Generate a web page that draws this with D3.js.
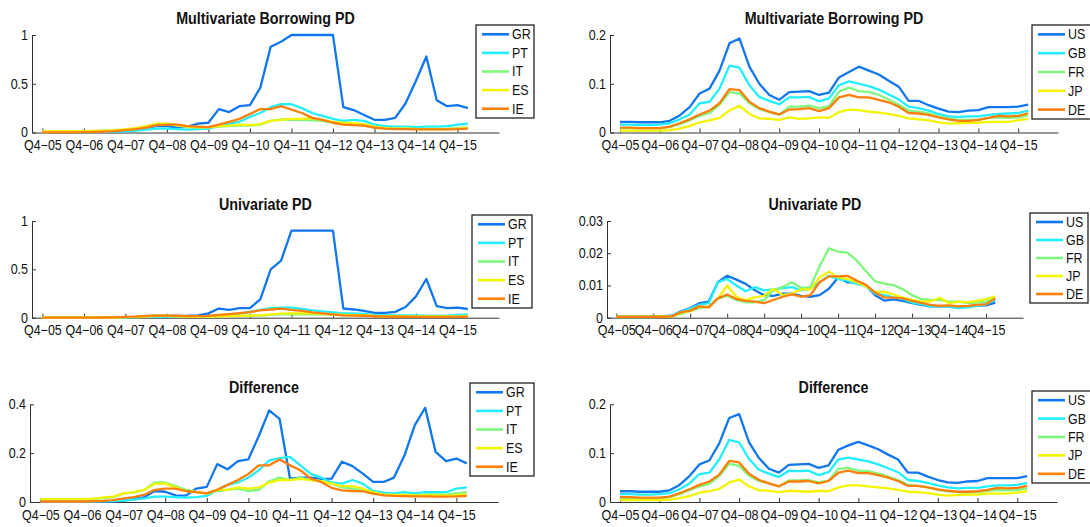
<!DOCTYPE html>
<html>
<head>
<meta charset="utf-8">
<script src="https://cdn.jsdelivr.net/npm/d3@7"></script>
<style>
  body { margin: 0; background: #fff; }
  svg { display: block; font-family: "Liberation Sans", Arial, Helvetica, sans-serif; }
  .tick text, .title, .leg text { transform-box: fill-box; transform-origin: center; transform: scaleY(1.1); }
  .tick text { font-size: 12.5px; fill: #111; }
  .title { font-size: 14.3px; font-weight: bold; fill: #111; }
  .leg text { font-size: 12.5px; fill: #111; }
</style>
</head>
<body>
<svg id="chart" width="1090" height="527"></svg>
<script>
// quarters Q4-05 .. Q1-16 (index 0..41), ticks every 4th quarter
const tickIdx = [0, 4, 8, 12, 16, 20, 24, 28, 32, 36, 40];
const tickLabels = ['Q4\u221205', 'Q4\u221206', 'Q4\u221207', 'Q4\u221208', 'Q4\u221209', 'Q4\u221210',
                    'Q4\u221211', 'Q4\u221212', 'Q4\u221213', 'Q4\u221214', 'Q4\u221215'];

const euroNames = ['GR', 'PT', 'IT', 'ES', 'IE'];
const coreNames = ['US', 'GB', 'FR', 'JP', 'DE'];

// Multivariate Borrowing PD - periphery
const mvGR = [0.004,0.004,0.004,0.004,0.004,0.005,0.006,0.008,0.015,0.03,0.05,0.065,0.065,0.05,0.06,0.09,0.1,0.24,0.21,0.27,0.28,0.46,0.88,0.93,1,1,1,1,1,0.26,0.23,0.18,0.13,0.13,0.15,0.3,0.53,0.78,0.33,0.27,0.28,0.25];
const mvPT = [0.004,0.004,0.004,0.004,0.005,0.005,0.006,0.008,0.012,0.02,0.03,0.04,0.04,0.035,0.03,0.035,0.04,0.065,0.09,0.11,0.16,0.2,0.26,0.29,0.29,0.25,0.2,0.17,0.14,0.12,0.13,0.12,0.08,0.065,0.06,0.06,0.055,0.06,0.06,0.065,0.08,0.09];
const mvIT = [0.01,0.01,0.01,0.01,0.012,0.014,0.018,0.022,0.03,0.04,0.06,0.085,0.085,0.07,0.055,0.05,0.05,0.06,0.065,0.07,0.07,0.08,0.12,0.135,0.13,0.13,0.125,0.12,0.1,0.085,0.08,0.07,0.05,0.042,0.04,0.04,0.038,0.038,0.038,0.04,0.045,0.05];
const mvES = [0.012,0.012,0.012,0.012,0.014,0.016,0.02,0.025,0.035,0.045,0.065,0.09,0.09,0.075,0.06,0.055,0.055,0.065,0.07,0.08,0.075,0.085,0.12,0.13,0.14,0.14,0.145,0.13,0.11,0.1,0.095,0.085,0.06,0.045,0.04,0.04,0.035,0.035,0.035,0.035,0.04,0.045];
const mvIE = [0.002,0.002,0.002,0.002,0.003,0.005,0.01,0.015,0.025,0.035,0.05,0.075,0.08,0.08,0.065,0.06,0.055,0.08,0.11,0.14,0.19,0.24,0.24,0.27,0.235,0.2,0.15,0.13,0.1,0.08,0.075,0.07,0.05,0.04,0.035,0.035,0.033,0.033,0.033,0.033,0.035,0.04];

// Multivariate Borrowing PD - core
const mvUS = [0.022,0.022,0.021,0.021,0.021,0.024,0.035,0.052,0.08,0.09,0.127,0.183,0.193,0.135,0.1,0.077,0.067,0.083,0.084,0.085,0.077,0.082,0.113,0.124,0.135,0.127,0.119,0.106,0.094,0.065,0.065,0.056,0.049,0.043,0.042,0.045,0.046,0.052,0.052,0.052,0.053,0.057];
const mvGB = [0.016,0.016,0.015,0.015,0.016,0.019,0.027,0.037,0.06,0.063,0.09,0.137,0.133,0.097,0.073,0.065,0.058,0.072,0.072,0.073,0.064,0.07,0.097,0.105,0.1,0.095,0.088,0.078,0.068,0.053,0.05,0.045,0.038,0.033,0.032,0.033,0.033,0.036,0.038,0.039,0.04,0.045];
const mvFR = [0.009,0.009,0.009,0.009,0.009,0.011,0.017,0.025,0.034,0.04,0.057,0.083,0.08,0.06,0.048,0.042,0.036,0.053,0.053,0.055,0.05,0.054,0.084,0.092,0.085,0.083,0.077,0.068,0.057,0.045,0.043,0.039,0.033,0.029,0.026,0.026,0.026,0.03,0.031,0.03,0.031,0.035];
const mvJP = [0.004,0.004,0.004,0.004,0.004,0.005,0.008,0.013,0.021,0.025,0.03,0.045,0.055,0.038,0.029,0.028,0.026,0.031,0.028,0.029,0.031,0.03,0.042,0.047,0.046,0.043,0.041,0.038,0.034,0.029,0.027,0.025,0.021,0.018,0.019,0.02,0.02,0.022,0.022,0.022,0.025,0.028];
const mvDE = [0.01,0.01,0.009,0.009,0.009,0.012,0.019,0.027,0.037,0.045,0.06,0.089,0.087,0.063,0.05,0.043,0.037,0.047,0.048,0.05,0.044,0.05,0.072,0.077,0.072,0.072,0.067,0.062,0.053,0.04,0.039,0.036,0.031,0.027,0.024,0.024,0.026,0.03,0.034,0.033,0.034,0.039];

// Univariate PD - periphery
const uvGR = [0.002,0.002,0.002,0.002,0.002,0.002,0.002,0.002,0.005,0.008,0.015,0.02,0.02,0.018,0.02,0.025,0.045,0.095,0.08,0.1,0.1,0.19,0.5,0.59,0.9,0.9,0.9,0.9,0.9,0.095,0.085,0.07,0.05,0.05,0.06,0.11,0.22,0.4,0.12,0.1,0.105,0.09];
const uvPT = [0.001,0.001,0.001,0.001,0.001,0.001,0.001,0.001,0.003,0.005,0.008,0.012,0.012,0.01,0.01,0.012,0.015,0.025,0.035,0.045,0.06,0.08,0.1,0.105,0.105,0.09,0.075,0.065,0.055,0.045,0.045,0.04,0.03,0.027,0.025,0.025,0.025,0.022,0.022,0.022,0.028,0.033];
const uvIT = [0.002,0.002,0.002,0.002,0.002,0.002,0.002,0.002,0.005,0.007,0.012,0.018,0.018,0.013,0.01,0.01,0.01,0.015,0.018,0.02,0.02,0.022,0.03,0.035,0.035,0.035,0.035,0.035,0.035,0.03,0.028,0.025,0.02,0.016,0.014,0.014,0.013,0.013,0.013,0.014,0.015,0.02];
const uvES = [0.002,0.002,0.002,0.002,0.002,0.002,0.002,0.002,0.005,0.008,0.015,0.02,0.02,0.015,0.012,0.012,0.012,0.015,0.017,0.02,0.022,0.025,0.035,0.042,0.045,0.045,0.045,0.04,0.035,0.028,0.026,0.024,0.018,0.015,0.013,0.012,0.011,0.011,0.011,0.011,0.012,0.015];
const uvIE = [0.001,0.001,0.001,0.001,0.001,0.001,0.002,0.003,0.008,0.012,0.018,0.022,0.022,0.02,0.016,0.016,0.018,0.028,0.038,0.048,0.058,0.075,0.085,0.093,0.08,0.07,0.055,0.045,0.035,0.025,0.022,0.02,0.015,0.012,0.01,0.01,0.009,0.009,0.009,0.009,0.009,0.01];

// Univariate PD - core
const uvUS = [0.0003,0.0003,0.0003,0.0003,0.0003,0.0005,0.0006,0.002,0.003,0.0045,0.005,0.011,0.013,0.0118,0.0105,0.0085,0.007,0.0068,0.0075,0.0075,0.0068,0.0065,0.007,0.009,0.0125,0.011,0.011,0.01,0.007,0.0053,0.0057,0.0052,0.0045,0.004,0.0035,0.0035,0.0035,0.0032,0.0035,0.0038,0.0038,0.0047];
const uvGB = [0.0003,0.0003,0.0003,0.0003,0.0003,0.0004,0.0005,0.0018,0.0028,0.004,0.0045,0.011,0.012,0.01,0.0082,0.0095,0.0085,0.0088,0.0092,0.0095,0.0085,0.009,0.011,0.013,0.012,0.0115,0.0105,0.0098,0.0075,0.007,0.0063,0.0058,0.0047,0.0042,0.0036,0.0035,0.0034,0.003,0.0032,0.0037,0.0042,0.0055];
const uvFR = [0.0002,0.0002,0.0002,0.0002,0.0002,0.0003,0.0004,0.0012,0.002,0.003,0.0035,0.006,0.0068,0.0055,0.0048,0.0048,0.0055,0.0085,0.0095,0.011,0.0092,0.0095,0.016,0.0215,0.0205,0.0202,0.0178,0.0145,0.0113,0.0106,0.0101,0.0088,0.007,0.0058,0.0055,0.0055,0.005,0.005,0.0045,0.0047,0.005,0.0062];
const uvJP = [0.0003,0.0003,0.0003,0.0003,0.0003,0.0003,0.0004,0.0015,0.0022,0.0035,0.0033,0.006,0.01,0.0065,0.0055,0.0063,0.0068,0.009,0.007,0.0075,0.0088,0.0088,0.0125,0.0143,0.0125,0.012,0.011,0.0098,0.008,0.008,0.0072,0.0062,0.0055,0.005,0.0051,0.0062,0.0045,0.005,0.0048,0.0052,0.0058,0.0066];
const uvDE = [0.0003,0.0003,0.0003,0.0003,0.0003,0.0003,0.0004,0.0017,0.0022,0.0035,0.0032,0.006,0.0072,0.0058,0.0052,0.005,0.0045,0.0055,0.0065,0.0072,0.0065,0.007,0.011,0.0128,0.0128,0.013,0.0115,0.0102,0.0078,0.0063,0.0062,0.006,0.0052,0.0046,0.004,0.0037,0.0038,0.0035,0.0037,0.004,0.0042,0.006];

// Difference - periphery
const dfGR = [0.003,0.003,0.003,0.003,0.003,0.003,0.003,0.003,0.006,0.012,0.02,0.045,0.042,0.027,0.026,0.055,0.062,0.155,0.134,0.167,0.175,0.27,0.375,0.34,0.096,0.1,0.1,0.095,0.096,0.165,0.147,0.116,0.082,0.082,0.1,0.19,0.315,0.386,0.205,0.167,0.178,0.158];
const dfPT = [0.002,0.002,0.002,0.002,0.002,0.002,0.003,0.004,0.006,0.01,0.015,0.022,0.022,0.02,0.018,0.02,0.025,0.05,0.07,0.08,0.1,0.13,0.17,0.18,0.185,0.15,0.115,0.1,0.08,0.075,0.09,0.075,0.045,0.038,0.035,0.04,0.035,0.04,0.04,0.04,0.055,0.06];
const dfIT = [0.01,0.01,0.01,0.01,0.01,0.012,0.016,0.02,0.035,0.038,0.05,0.08,0.08,0.065,0.05,0.04,0.035,0.045,0.05,0.055,0.045,0.05,0.085,0.1,0.09,0.1,0.09,0.085,0.075,0.06,0.055,0.05,0.035,0.03,0.03,0.03,0.028,0.03,0.03,0.03,0.035,0.04];
const dfES = [0.012,0.012,0.012,0.012,0.012,0.014,0.018,0.022,0.035,0.04,0.05,0.075,0.075,0.06,0.045,0.04,0.035,0.05,0.05,0.06,0.055,0.06,0.08,0.09,0.09,0.095,0.09,0.085,0.075,0.065,0.065,0.055,0.04,0.03,0.028,0.028,0.027,0.027,0.027,0.027,0.028,0.03];
const dfIE = [0.002,0.002,0.002,0.002,0.002,0.003,0.005,0.008,0.015,0.02,0.03,0.05,0.055,0.055,0.045,0.04,0.035,0.05,0.07,0.09,0.115,0.15,0.15,0.174,0.15,0.13,0.096,0.082,0.058,0.048,0.045,0.044,0.034,0.027,0.025,0.024,0.023,0.023,0.022,0.022,0.023,0.025];

// Difference - core
const dfUS = [0.022,0.022,0.021,0.021,0.021,0.024,0.035,0.053,0.077,0.085,0.12,0.172,0.18,0.122,0.09,0.068,0.06,0.076,0.077,0.078,0.07,0.075,0.107,0.116,0.123,0.116,0.108,0.097,0.087,0.06,0.06,0.052,0.045,0.04,0.039,0.042,0.043,0.049,0.049,0.049,0.049,0.053];
const dfGB = [0.016,0.016,0.015,0.015,0.016,0.018,0.026,0.038,0.057,0.06,0.087,0.127,0.122,0.088,0.066,0.058,0.051,0.064,0.063,0.064,0.055,0.061,0.087,0.091,0.087,0.083,0.077,0.069,0.061,0.045,0.043,0.039,0.034,0.03,0.028,0.029,0.029,0.032,0.034,0.034,0.035,0.039];
const dfFR = [0.008,0.008,0.008,0.008,0.008,0.01,0.016,0.024,0.032,0.037,0.053,0.078,0.074,0.054,0.043,0.038,0.032,0.044,0.044,0.045,0.04,0.044,0.068,0.07,0.064,0.063,0.058,0.052,0.045,0.035,0.033,0.03,0.025,0.022,0.02,0.02,0.02,0.023,0.025,0.024,0.025,0.028];
const dfJP = [0.004,0.004,0.004,0.004,0.004,0.005,0.008,0.012,0.019,0.022,0.027,0.04,0.046,0.032,0.024,0.023,0.02,0.023,0.022,0.021,0.023,0.022,0.03,0.034,0.034,0.032,0.03,0.028,0.025,0.021,0.02,0.018,0.015,0.013,0.014,0.015,0.015,0.017,0.017,0.017,0.019,0.022];
const dfDE = [0.01,0.01,0.009,0.009,0.009,0.011,0.018,0.026,0.035,0.042,0.056,0.084,0.081,0.058,0.045,0.038,0.032,0.042,0.042,0.043,0.038,0.043,0.06,0.064,0.059,0.059,0.055,0.05,0.043,0.033,0.033,0.03,0.026,0.023,0.021,0.021,0.022,0.025,0.029,0.028,0.029,0.033];

const colors = ['#1177ee', '#22eeff', '#7ff77f', '#f4f400', '#ff7f0a'];

// axes boxes: [left, right, top, bottom]
let panels = [
    { title: 'Multivariate Borrowing PD', box: [32, 499, 35, 132.5], ymax: 1, yticks: [0, 0.5, 1],
      names: euroNames, series: [mvGR, mvPT, mvIT, mvES, mvIE], leg: [476, 534, 25, 118] },
    { title: 'Multivariate Borrowing PD', box: [610, 1058, 35, 132.5], ymax: 0.2, yticks: [0, 0.1, 0.2],
      names: coreNames, series: [mvUS, mvGB, mvFR, mvJP, mvDE], leg: [1032, 1096, 25, 119] },
    { title: 'Univariate PD', box: [32, 499, 221, 317.7], ymax: 1, yticks: [0, 0.5, 1],
      names: euroNames, series: [uvGR, uvPT, uvIT, uvES, uvIE], leg: [472, 532, 215, 308] },
    { title: 'Univariate PD', box: [607, 1023, 221, 317.7], ymax: 0.03, yticks: [0, 0.01, 0.02, 0.03],
      names: coreNames, series: [uvUS, uvGB, uvFR, uvJP, uvDE], leg: [1030, 1088, 213, 303] },
    { title: 'Difference', box: [30, 498, 404.3, 502], ymax: 0.4, yticks: [0, 0.2, 0.4],
      names: euroNames, series: [dfGR, dfPT, dfIT, dfES, dfIE], leg: [470, 534, 383, 476] },
    { title: 'Difference', box: [610, 1057, 404.3, 502], ymax: 0.2, yticks: [0, 0.1, 0.2],
      names: coreNames, series: [dfUS, dfGB, dfFR, dfJP, dfDE], leg: [1032, 1096, 391, 483] }
];

let svg = d3.select('#chart');
svg.append('rect').attr('width', 1090).attr('height', 527).attr('fill', '#fff');

function drawPanel(p) {
    let [x0, x1, y0, y1] = p.box;
    let scX = d3.scaleLinear().domain([-1, 44]).range([x0, x1]);
    let scY = d3.scaleLinear().domain([0, p.ymax]).range([y1, y0]);

    let axX = svg.append('g')
        .attr('transform', `translate(0, ${y1})`)
        .call(d3.axisBottom(scX)
            .tickValues(tickIdx)
            .tickFormat((d, i) => tickLabels[i])
            .tickSizeInner(-4)
            .tickSizeOuter(0)
            .tickPadding(8.5));
    let axY = svg.append('g')
        .attr('transform', `translate(${x0}, 0)`)
        .call(d3.axisLeft(scY)
            .tickValues(p.yticks)
            .tickFormat(d => String(+d.toFixed(3)))
            .tickSizeInner(-4)
            .tickSizeOuter(0)
            .tickPadding(4));
    [axX, axY].forEach(ax => {
        ax.select('.domain').attr('stroke', '#333');
        ax.selectAll('.tick line').attr('stroke', '#333');
        ax.attr('font-size', null).attr('font-family', null);
    });

    svg.append('text')
        .attr('class', 'title')
        .attr('x', (x0 + x1) / 2)
        .attr('y', y0 - 12)
        .attr('text-anchor', 'middle')
        .text(p.title);

    let line = d3.line()
        .x((d, i) => scX(i))
        .y(d => scY(d));
    p.series.forEach((s, k) => {
        svg.append('path')
            .datum(s)
            .attr('d', line)
            .attr('fill', 'none')
            .attr('stroke', colors[k])
            .attr('stroke-width', 2.3)
            .attr('stroke-linejoin', 'round');
    });

    // legend
    let [lx0, lx1, ly0, ly1] = p.leg;
    let g = svg.append('g').attr('class', 'leg');
    g.append('rect')
        .attr('x', lx0).attr('y', ly0)
        .attr('width', lx1 - lx0).attr('height', ly1 - ly0)
        .attr('fill', '#fff').attr('stroke', '#222').attr('stroke-width', 1.3);
    let step = (ly1 - ly0) / 5;
    p.names.forEach((n, k) => {
        let cy = ly0 + step * (k + 0.5);
        g.append('line')
            .attr('x1', lx0 + 6).attr('x2', lx0 + 33)
            .attr('y1', cy).attr('y2', cy)
            .attr('stroke', colors[k]).attr('stroke-width', 2.6);
        g.append('text')
            .attr('x', lx0 + 36).attr('y', cy + 4.5)
            .text(n);
    });
}

panels.forEach(drawPanel);
</script>
</body>
</html>
